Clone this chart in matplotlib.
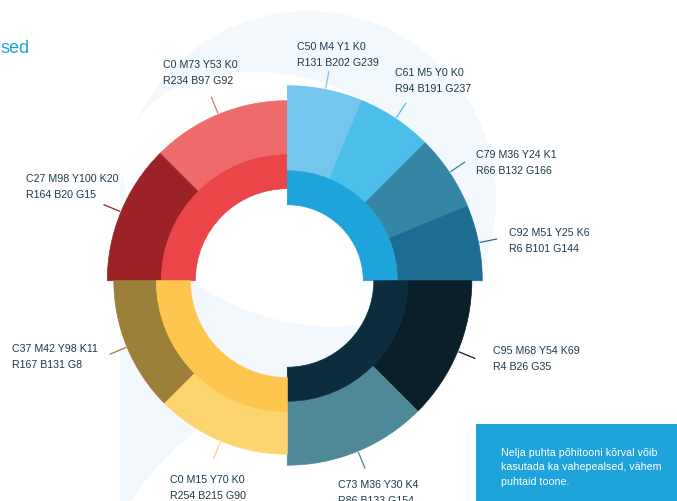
import numpy as np
import matplotlib.pyplot as plt
from matplotlib.patches import Circle, Ellipse, Polygon, Rectangle

plt.rcParams['font.family'] = ['Liberation Sans', 'DejaVu Sans']

W, H = 677, 502

# quadrants of the colour wheel
quadrants = ['red', 'blue', 'dark', 'yellow']
inner_colors = ['#EB4449', '#1FA3DB', '#0B2D3E', '#FEC64F']

# outer segments: sweep in degrees
red_sweep = [45, 45]
blue_sweep = [22.5, 22.5, 22.5, 22.5]
dark_sweep = [45, 45]
yellow_sweep = [45, 45]

red_colors = ['#EE6A6B', '#9B2226']
blue_colors = ['#74C6EC', '#4BBFEA', '#3586A5', '#1D6D93']
dark_colors = ['#091F2A', '#4F8899']
yellow_colors = ['#9C7F38', '#FDD56F']

red_labels = [('C0 M73 Y53 K0', 'R234 B97 G92'),
              ('C27 M98 Y100 K20', 'R164 B20 G15')]
blue_labels = [('C50 M4 Y1 K0', 'R131 B202 G239'),
               ('C61 M5 Y0 K0', 'R94 B191 G237'),
               ('C79 M36 Y24 K1', 'R66 B132 G166'),
               ('C92 M51 Y25 K6', 'R6 B101 G144')]
dark_labels = [('C95 M68 Y54 K69', 'R4 B26 G35'),
               ('C73 M36 Y30 K4', 'R86 B133 G154')]
yellow_labels = [('C37 M42 Y98 K11', 'R167 B131 G8'),
                 ('C0 M15 Y70 K0', 'R254 B215 G90')]

note_lines = ['Nelja puhta põhitooni kõrval võib',
              'kasutada ka vahepealsed, vähem',
              'puhtaid toone.']

sweeps = dict(red=red_sweep, blue=blue_sweep, dark=dark_sweep, yellow=yellow_sweep)
colors = dict(red=red_colors, blue=blue_colors, dark=dark_colors, yellow=yellow_colors)
labels = dict(red=red_labels, blue=blue_labels, dark=dark_labels, yellow=yellow_labels)

# layout (image pixel coords, y down)
cx, cy = 287.3, 281.7
layout = {
    'red': dict(start=90, ccw=True, radii=(92, 126, 180),
                text_xy=[(163, 64.3), (25.5, 177.7)]),
    'blue': dict(start=90, ccw=False, radii=(76, 110, 195),
                 text_xy=[(296.7, 45.7), (395, 71.7), (475.7, 154), (508.7, 232.3)]),
    'dark': dict(start=0, ccw=False, radii=(86.5, 120.5, 184.5),
                 text_xy=[(492.7, 350.7), (338.3, 484)]),
    'yellow': dict(start=180, ccw=True, radii=(97, 131, 173.5),
                   text_xy=[(11.7, 348.3), (170, 479)]),
}


def Y(y):
    return H - y


fig = plt.figure(figsize=(W / 100, H / 100), dpi=100)
ax = fig.add_axes([0, 0, 1, 1])

# faint watermark behind the wheel
bg = '#F3F8FC'
ax.add_patch(Circle((308, Y(200)), 188, fc=bg, ec='none', zorder=0))
stem = [(120, 200), (120, 502), (130, 502), (150, 476), (175, 450), (200, 428),
        (240, 405), (290, 390), (290, 300)]
ax.add_patch(Polygon([(x, Y(y)) for x, y in stem], fc=bg, ec='none', zorder=0))
ax.add_patch(Ellipse((292, Y(200)), 350, 240, angle=-20, fc='white', ec='none', zorder=0.5))

text_color = '#1E3A4C'
for q, inner_c in zip(quadrants, inner_colors):
    lay = layout[q]
    r_hole, r_mid, r_out = lay['radii']
    frac = np.array(sweeps[q]) / 360.0
    wedges, _ = ax.pie(frac, colors=colors[q], radius=r_out, center=(cx, Y(cy)),
                       startangle=lay['start'], counterclock=lay['ccw'],
                       normalize=False, frame=True,
                       wedgeprops=dict(width=r_out - r_mid, linewidth=0.5))
    for w in wedges:
        w.set_edgecolor(w.get_facecolor())
        w.set_zorder(2)
    inner, _ = ax.pie([frac.sum()], colors=[inner_c], radius=r_mid, center=(cx, Y(cy)),
                      startangle=lay['start'], counterclock=lay['ccw'],
                      normalize=False, frame=True,
                      wedgeprops=dict(width=r_mid - r_hole, linewidth=0.5, edgecolor=inner_c))
    for w in inner:
        w.set_zorder(2)

    for w, (l1, l2), (tx, ty) in zip(wedges, labels[q], lay['text_xy']):
        mid = np.deg2rad((w.theta1 + w.theta2) / 2)
        r0, r1 = r_out + 1, r_out + 19
        ax.plot([cx + r0 * np.cos(mid), cx + r1 * np.cos(mid)],
                [Y(cy) + r0 * np.sin(mid), Y(cy) + r1 * np.sin(mid)],
                color=w.get_facecolor(), lw=0.9, zorder=3, solid_capstyle='butt')
        ax.text(tx, Y(ty + 3.8), l1, fontsize=7.7, color=text_color, va='baseline', zorder=4)
        ax.text(tx, Y(ty + 19.8), l2, fontsize=7.7, color=text_color, va='baseline', zorder=4)

# title fragment
ax.text(0, Y(53.3), 'sed', fontsize=13, color='#1EA3DB', ha='left', va='baseline')

# note box
ax.add_patch(Rectangle((476, 0), 220, Y(425), fc='#1EA4DB', ec='none', zorder=5))
for i, line in enumerate(note_lines):
    ax.text(501, Y(452.3 + 14.4 * i + 3.8), line, fontsize=7.7, color='white',
            va='baseline', zorder=6)

ax.set_xlim(0, W)
ax.set_ylim(0, H)
ax.set_aspect('equal')
ax.axis('off')
fig.savefig('out.png', dpi=100)
